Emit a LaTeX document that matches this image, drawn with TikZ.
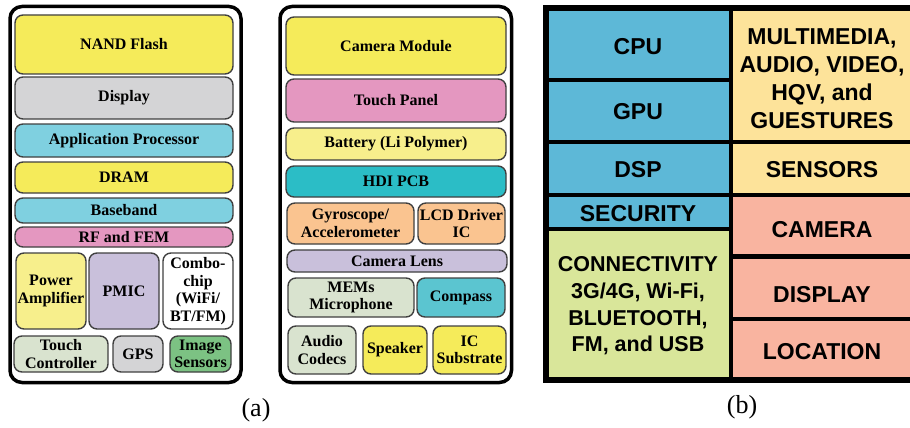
\documentclass[tikz,border=0pt]{standalone}
\usepackage{fontspec}
\setmainfont{Liberation Serif}
\newfontfamily\arial{Liberation Sans}
\usepackage{xcolor}
\usepackage{tikz}
\usetikzlibrary{positioning,calc}

\definecolor{flash}{HTML}{F5EB5A}
\definecolor{greyish}{HTML}{D4D4D6}
\definecolor{aqua}{HTML}{7FD0E0}
\definecolor{pinkish}{HTML}{E497C0}
\definecolor{paleyel}{HTML}{F7EF8C}
\definecolor{lilac}{HTML}{C9C0DB}
\definecolor{sage}{HTML}{D9E3CF}
\definecolor{leaf}{HTML}{7CC283}
\definecolor{pcbteal}{HTML}{2BBDC6}
\definecolor{peach}{HTML}{FAC490}
\definecolor{compass}{HTML}{5BC5D0}
\definecolor{cpublue}{HTML}{5DB8D7}
\definecolor{mediayel}{HTML}{FDE39A}
\definecolor{connlime}{HTML}{D9E69A}
\definecolor{salmon}{HTML}{F9B4A0}

\tikzset{
  part/.style={draw=black!75, line width=1.4pt, rounded corners=8pt},
  lbl/.style={font=\bfseries\fontsize{16}{17.5}\selectfont, align=center, inner sep=0pt},
  frame/.style={draw, line width=3.5pt, rounded corners=12pt},
  cell/.style={font=\arial\bfseries\fontsize{23}{28}\selectfont, align=center, inner sep=0pt},
  grid/.style={line width=4.5pt},
}

\begin{document}
\begin{tikzpicture}[x=1pt,y=-1pt]
    \useasboundingbox (0,0) rectangle (910,428);
    % (a) left board
    \draw[frame] (10,6.5) rectangle (241,382.5);
    \draw[part,fill=flash] (15,15) rectangle (233,74); \node[lbl] (nand) at (124,44.5) {NAND Flash};
    \draw[part,fill=greyish] (15,77) rectangle (233,119); \node[lbl] (disp) at (124,98) {Display};
    \draw[part,fill=aqua] (15,124) rectangle (233,157); \node[lbl] (ap) at (124,140.5) {Application Processor};
    \draw[part,fill=flash] (15,162) rectangle (233,193); \node[lbl] (dram) at (124,177.5) {DRAM};
    \draw[part,fill=aqua] (15,198) rectangle (233,223); \node[lbl] (bb) at (124,210.5) {Baseband};
    \draw[part,fill=pinkish] (15,227) rectangle (233,247); \node[lbl] (rf) at (124,237) {RF and FEM};
    \draw[part,fill=paleyel] (16,253) rectangle (86,329); \node[lbl] (pa) at (51,291) {Power\\Amplifier};
    \draw[part,fill=lilac] (89,253) rectangle (159,329); \node[lbl] (pmic) at (124,291) {PMIC};
    \draw[part,fill=white] (163,253) rectangle (233,329); \node[lbl] (combo) at (198,291) {Combo-\\chip\\(WiFi/\\BT/FM)};
    \draw[part,fill=sage] (14,336) rectangle (108,372); \node[lbl] (touch) at (61,354) {Touch\\Controller};
    \draw[part,fill=greyish] (113,336) rectangle (163,372); \node[lbl] (gps) at (138,354) {GPS};
    \draw[part,fill=leaf] (170,336) rectangle (231,372); \node[lbl] (img) at (200.5,354) {Image\\Sensors};
    % (a) right board
    \draw[frame] (280,6.5) rectangle (511.5,382.5);
    \draw[part,fill=flash] (286,17) rectangle (506,75); \node[lbl] (cam) at (396,46) {Camera Module};
    \draw[part,fill=pinkish] (286,79) rectangle (506,122); \node[lbl] (tp) at (396,100.5) {Touch Panel};
    \draw[part,fill=paleyel] (286,128) rectangle (506,160); \node[lbl] (bat) at (396,144) {Battery (Li Polymer)};
    \draw[part,fill=pcbteal] (286,166) rectangle (506,197); \node[lbl] (pcb) at (396,181.5) {HDI PCB};
    \draw[part,fill=peach] (287,203) rectangle (414,244); \node[lbl] (gyro) at (350.5,223.5) {Gyroscope/\\Accelerometer};
    \draw[part,fill=peach] (418,203) rectangle (505,244); \node[lbl] (lcd) at (461.5,223.5) {LCD Driver\\IC};
    \draw[part,fill=lilac] (287,250) rectangle (507,272); \node[lbl] (lens) at (397,261) {Camera Lens};
    \draw[part,fill=sage] (288,278) rectangle (414,317); \node[lbl] (mic) at (351,297.5) {MEMs\\Microphone};
    \draw[part,fill=compass] (417,278) rectangle (505,317); \node[lbl] (cps) at (461,297.5) {Compass};
    \draw[part,fill=sage] (288,326) rectangle (356,374); \node[lbl] (codec) at (322,350) {Audio\\Codecs};
    \draw[part,fill=flash] (363,326) rectangle (427,374); \node[lbl] (spk) at (395,350) {Speaker};
    \draw[part,fill=flash] (433,326) rectangle (506,374); \node[lbl] (sub) at (469.5,350) {IC\\Substrate};
    \node[font=\fontsize{26}{30}\selectfont] (capa) at (256,410) {(a)};
    % (b) functional blocks
    \fill[cpublue] (545,8) rectangle (731,229);
    \fill[connlime] (545,229) rectangle (731,380);
    \fill[mediayel] (731,8) rectangle (912,195);
    \fill[salmon] (731,195) rectangle (912,380);
    \draw[grid] (545,80) -- (731,80);
    \draw[grid] (545,142) -- (912,142);
    \draw[grid] (545,195) -- (912,195);
    \draw[grid] (545,229) -- (731,229);
    \draw[grid] (731,256.5) -- (912,256.5);
    \draw[grid] (731,319) -- (912,319);
    \draw[grid] (731,8) -- (731,380);
    \draw[line width=6pt] (912,8) -- (545.5,8) -- (545.5,380) -- (912,380);
    \node[cell] (cpu) at (638,47) {CPU};
    \node[cell] (gpu) at (638,112) {GPU};
    \node[cell] (dsp) at (638,170) {DSP};
    \node[cell] (sec) at (638,214) {SECURITY};
    \node[cell,font=\arial\bfseries\fontsize{21.5}{26.7}\selectfont] (conn) at (638,306) {CONNECTIVITY\\3G/4G, Wi-Fi,\\BLUETOOTH,\\FM, and USB};
    \node[cell] (media) at (822,79) {MULTIMEDIA,\\AUDIO, VIDEO,\\HQV, and\\GUESTURES};
    \node[cell] (sens) at (822,170) {SENSORS};
    \node[cell] (camb) at (822,230) {CAMERA};
    \node[cell] (dispb) at (822,295) {DISPLAY};
    \node[cell] (loc) at (822,352) {LOCATION};
    \node[font=\fontsize{26}{30}\selectfont] (capb) at (742,407) {(b)};
\end{tikzpicture}
\end{document}
